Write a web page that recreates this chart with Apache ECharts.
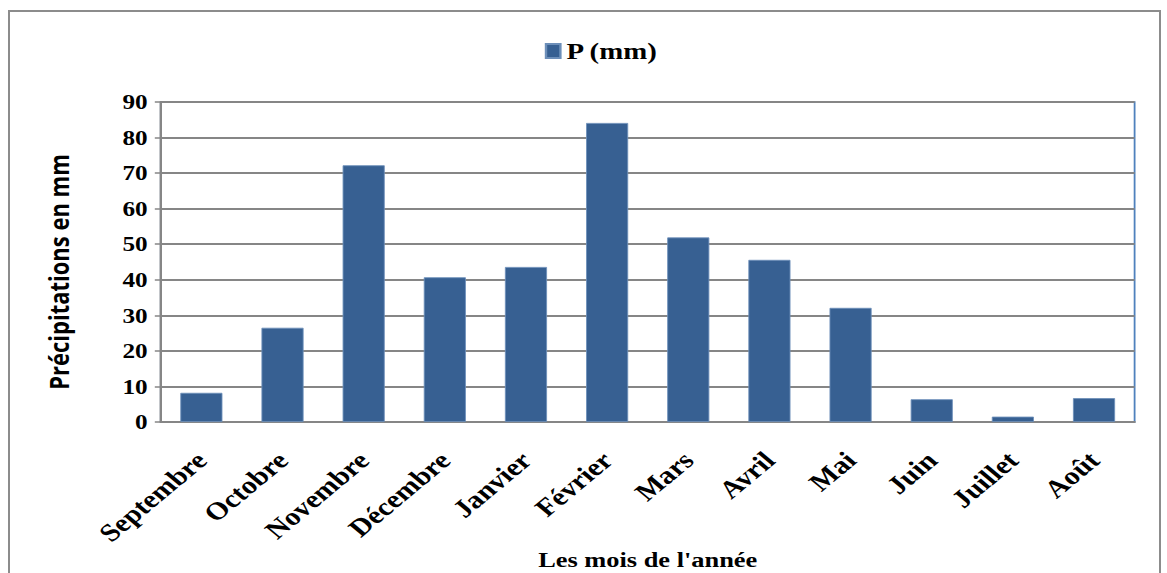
<!DOCTYPE html>
<html><head><meta charset="utf-8">
<script src="https://cdn.jsdelivr.net/npm/echarts@6/dist/echarts.min.js"></script>
<style>
html,body{margin:0;padding:0;background:#fff;overflow:hidden;}
#frame{position:absolute;left:8px;top:10px;width:1153px;height:600px;border:2px solid #8c8c8c;box-sizing:border-box;}
#c{position:absolute;left:0;top:0;width:972px;height:573px;transform:scaleX(1.2);transform-origin:0 0;}
</style></head>
<body>
<div id="frame"></div>
<div id="c"></div>
<script>
const categories = ['Septembre','Octobre','Novembre','Décembre','Janvier','Février','Mars','Avril','Mai','Juin','Juillet','Août'];
const precip = [8.2, 26.5, 72.2, 40.7, 43.6, 84.1, 51.9, 45.6, 32.1, 6.4, 1.5, 6.7];
const seriesName = 'P (mm)';
const yTitle = 'Précipitations en mm';
const xTitle = "Les mois de l'année";

const chart = echarts.init(document.getElementById('c'), null, {renderer: 'svg'});
const serif = 'Liberation Serif';
chart.setOption({
  animation: false,
  legend: {
    top: 34, left: 449,
    itemWidth: 12, itemHeight: 14, itemGap: 3,
    icon: 'rect',
    textStyle: {fontFamily: serif, fontWeight: 'bold', fontSize: 24, color: '#000'},
    data: [seriesName]
  },
  grid: {left: 134, right: 26.5, top: 102, bottom: 151, show: true, borderColor: '#4f81bd', borderWidth: 1.5,
         containLabel: false, outerBoundsMode: 'none'},
  xAxis: {
    type: 'category', data: categories,
    axisLine: {lineStyle: {color: '#868686', width: 2}},
    axisTick: {show: false},
    axisLabel: {rotate: 45, margin: 34, fontFamily: serif, fontWeight: 'bold', fontSize: 25, color: '#000'},
    name: xTitle, nameLocation: 'middle', nameGap: 126, nameMoveOverlap: false,
    nameTextStyle: {fontFamily: serif, fontWeight: 'bold', fontSize: 22, color: '#000'}
  },
  yAxis: {
    type: 'value', min: 0, max: 90, interval: 10,
    axisLine: {show: true, lineStyle: {color: '#868686', width: 2}},
    axisTick: {show: true, length: 5, lineStyle: {color: '#868686', width: 1.5}},
    splitLine: {lineStyle: {color: '#868686', width: 2}},
    axisLabel: {margin: 11, fontFamily: serif, fontWeight: 'bold', fontSize: 21, color: '#000'},
    name: yTitle, nameLocation: 'middle', nameGap: 74, nameRotate: 90, nameMoveOverlap: false,
    nameTextStyle: {fontFamily: 'Open Sans', fontWeight: 'bold', fontSize: 22, color: '#000', padding: [0, 20, 0, 0]}
  },
  series: [{
    name: seriesName, type: 'bar', data: precip,
    barCategoryGap: '48%',
    itemStyle: {color: '#376092', borderColor: '#6d8fb9', borderWidth: 0.8}
  }]
});
</script>
</body></html>
